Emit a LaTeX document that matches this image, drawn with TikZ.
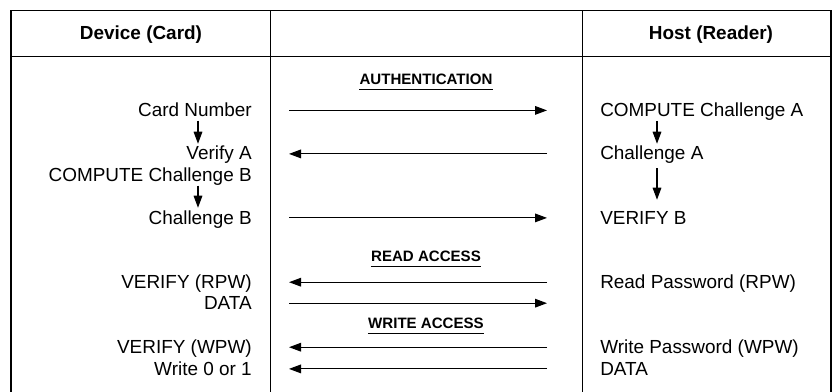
\documentclass[tikz,border=0pt]{standalone}
\usepackage{fontspec}
\setmainfont{Liberation Sans}
\usetikzlibrary{arrows.meta}

\begin{document}
\begin{tikzpicture}[x=0.75pt,y=-0.75pt,
    txt/.style={inner sep=0pt,text height=12pt,text depth=2.85pt,font=\fontsize{14.2}{17}\selectfont},
    dev/.style={txt,anchor=base east},
    host/.style={txt,anchor=base west},
    head/.style={txt,font=\fontsize{14.2}{17}\selectfont\bfseries,anchor=base},
    sect/.style={txt,font=\fontsize{11.3}{13}\selectfont\bfseries,anchor=base},
    msg/.style={line width=0.8pt,-{Triangle[length=9pt,width=6.5pt]}},
    flow/.style={msg},
    frame/.style={line width=1pt},
    rule/.style={line width=0.75pt}]
            \useasboundingbox (0,0) rectangle (832,392);

            % table
            \draw[frame] (11,392) -- (11,10.5) -- (831,10.5) -- (831,392);
            \draw[rule] (11,57) -- (831,57);
            \draw[rule] (270.5,10.5) -- (270.5,392);
            \draw[rule] (582,10.5) -- (582,392);

            \node[head] (device) at (141,40) {Device (Card)};
            \node[head] (host) at (711,40) {Host (Reader)};

            % phases
            \node[sect] (auth) at (426,85) {AUTHENTICATION};
            \node[sect] (read) at (426,262) {READ ACCESS};
            \node[sect] (write) at (426,328.5) {WRITE ACCESS};
            \foreach \s in {auth,read,write}
                \draw[rule] ([yshift=-3.4pt]\s.base west) -- ([yshift=-3.4pt]\s.base east);

            % card side
            \node[dev] (cardnum) at (252,116.5) {Card Number};
            \node[dev] (verifya) at (252,160) {Verify A};
            \node[dev] (computeb) at (252,181.5) {COMPUTE Challenge B};
            \node[dev] (challb) at (252,224) {Challenge B};
            \node[dev] (verifyrpw) at (252,288.3) {VERIFY (RPW)};
            \node[dev] (datadev) at (252,309.3) {DATA};
            \node[dev] (verifywpw) at (252,353.3) {VERIFY (WPW)};
            \node[dev] (writebit) at (252,375) {Write 0 or 1};

            % reader side
            \node[host] (computea) at (600,116.7) {COMPUTE Challenge A};
            \node[host] (challa) at (600,160) {Challenge A};
            \node[host] (verifyb) at (600,224) {VERIFY B};
            \node[host] (readpw) at (600,288) {Read Password (RPW)};
            \node[host] (writepw) at (600,353) {Write Password (WPW)};
            \node[host] (datahost) at (600,375) {DATA};

            \coordinate (l) at (289,0);
            \coordinate (r) at (547,0);
            \coordinate (dl) at (198,0);
            \coordinate (dr) at (657,0);

            % steps
            \draw[flow] (cardnum.south -| dl) -- (verifya.north -| dl);
            \draw[flow] (computeb.south -| dl) -- (challb.north -| dl);
            \draw[flow] (computea.south -| dr) -- (challa.north -| dr);
            \draw[flow,shorten <=3pt,shorten >=6pt] (challa.south -| dr) -- (verifyb.north -| dr);

            % messages
            \draw[msg] (cardnum -| l) -- (cardnum -| r);
            \draw[msg] (verifya -| r) -- (verifya -| l);
            \draw[msg] (challb -| l) -- (challb -| r);
            \draw[msg] (verifyrpw -| r) -- (verifyrpw -| l);
            \draw[msg] (datadev -| l) -- (datadev -| r);
            \draw[msg] (verifywpw -| r) -- (verifywpw -| l);
            \draw[msg] (writebit -| r) -- (writebit -| l);
        \end{tikzpicture}
\end{document}
